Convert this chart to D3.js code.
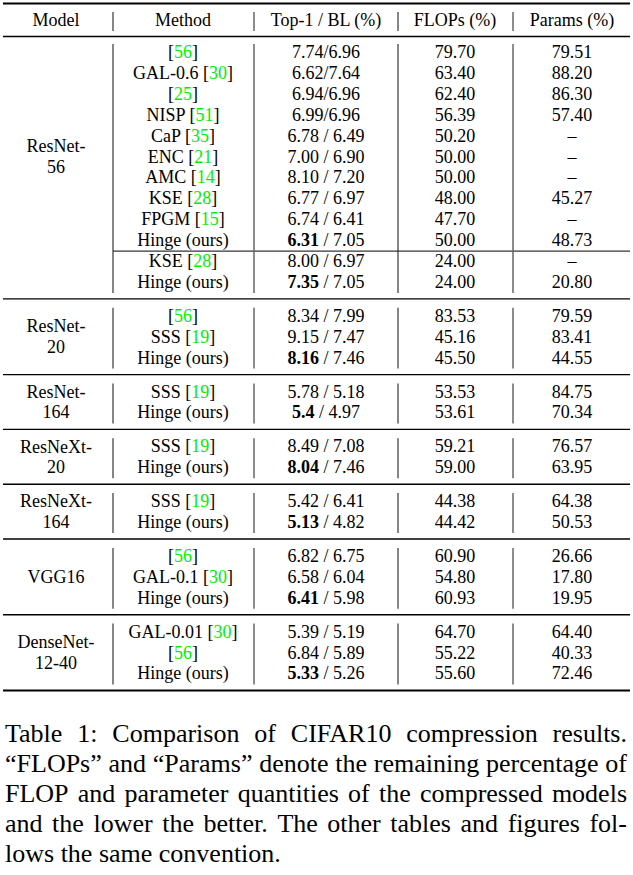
<!DOCTYPE html>
<html>
<head>
<meta charset="utf-8">
<script src="https://cdn.jsdelivr.net/npm/d3@7"></script>
<style>
html,body{margin:0;padding:0;background:#fff;}
svg{display:block;}
text{font-family:"Liberation Serif","Times New Roman",serif;fill:#000;}
</style>
</head>
<body>
<div id="chart"></div>
<script>
// ---------- data ----------
const headers = ["Model", "Method", "Top-1 / BL (%)", "FLOPs (%)", "Params (%)"];
const models = [["ResNet-", "56"], ["ResNet-", "20"], ["ResNet-", "164"], ["ResNeXt-", "20"], ["ResNeXt-", "164"], ["VGG16"], ["DenseNet-", "12-40"]];
const modelLabelRow = [5, 1, 0.5, 0.5, 0.5, 1, 1];
const rowGroup = [0,0,0,0,0,0,0,0,0,0,0,0, 1,1,1, 2,2, 3,3, 4,4, 5,5,5, 6,6,6];
const methodNames = ["", "GAL-0.6", "", "NISP", "CaP", "ENC", "AMC", "KSE", "FPGM", "Hinge (ours)", "KSE", "Hinge (ours)",
  "", "SSS", "Hinge (ours)",
  "SSS", "Hinge (ours)",
  "SSS", "Hinge (ours)",
  "SSS", "Hinge (ours)",
  "", "GAL-0.1", "Hinge (ours)",
  "GAL-0.01", "", "Hinge (ours)"];
const methodRefs = ["56", "30", "25", "51", "35", "21", "14", "28", "15", "", "28", "",
  "56", "19", "",
  "19", "",
  "19", "",
  "19", "",
  "56", "30", "",
  "30", "56", ""];
const top1 = ["7.74","6.62","6.94","6.99","6.78","7.00","8.10","6.77","6.74","6.31","8.00","7.35",
  "8.34","9.15","8.16", "5.78","5.4", "8.49","8.04", "5.42","5.13", "6.82","6.58","6.41", "5.39","6.84","5.33"];
const baseline = ["6.96","7.64","6.96","6.96","6.49","6.90","7.20","6.97","6.41","7.05","6.97","7.05",
  "7.99","7.47","7.46", "5.18","4.97", "7.08","7.46", "6.41","4.82", "6.75","6.04","5.98", "5.19","5.89","5.26"];
const top1Bold = [0,0,0,0,0,0,0,0,0,1,0,1, 0,0,1, 0,1, 0,1, 0,1, 0,0,1, 0,0,1];
const compactSlash = [1,1,1,1,0,0,0,0,0,0,0,0, 0,0,0, 0,0, 0,0, 0,0, 0,0,0, 0,0,0];
const flops = ["79.70","63.40","62.40","56.39","50.20","50.00","50.00","48.00","47.70","50.00","24.00","24.00",
  "83.53","45.16","45.50", "53.53","53.61", "59.21","59.00", "44.38","44.42", "60.90","54.80","60.93", "64.70","55.22","55.60"];
const params = ["79.51","88.20","86.30","57.40","–","–","–","45.27","–","48.73","–","20.80",
  "79.59","83.41","44.55", "84.75","70.34", "76.57","63.95", "64.38","50.53", "26.66","17.80","19.95", "64.40","40.33","72.46"];
const captionLines = [
  "Table 1:  Comparison of CIFAR10 compression results.",
  "“FLOPs” and “Params” denote the remaining percentage of",
  "FLOP and parameter quantities of the compressed models",
  "and the lower the better.  The other tables and figures fol-",
  "lows the same convention."
];

// ---------- layout ----------
const W = 633, H = 875;
const svg = d3.select("#chart").append("svg").attr("width", W).attr("height", H);
const fs = 18;
const rowStep = 20.9, groupGap = 13;
const colX = d3.scaleOrdinal().domain([0,1,2,3,4]).range([56, 183, 326, 455, 572]);
const rowY = d3.scaleLinear().domain([0, 1]).range([52, 52 + rowStep]);
const yOf = (r) => rowY(r) + rowGroup[r] * groupGap;
const headerY = 20;
const vLines = [113, 254, 398, 513];
const left = 3, right = 630;

function hRule(y, w, x0 = left, x1 = right) {
  svg.append("line").attr("x1", x0).attr("x2", x1).attr("y1", y).attr("y2", y)
    .attr("stroke", "#000").attr("stroke-width", w);
}
hRule(3.5, 2);
hRule(36.5, 1.4);
const nGroups = models.length;
const groupRows = d3.range(nGroups).map(g => rowGroup.map((gg, i) => gg === g ? i : -1).filter(i => i >= 0));
groupRows.forEach((rows, g) => {
  const last = rows[rows.length - 1];
  hRule(yOf(last) + 17, g === nGroups - 1 ? 2 : 1.4);
});
hRule(yOf(9) + 11, 1, vLines[0], right);

function vSeg(y0, y1) {
  vLines.forEach((x, k) => {
    svg.append("line").attr("x1", x).attr("x2", x).attr("y1", y0).attr("y2", y1)
      .attr("stroke", k % 2 === 1 ? "#666" : "#222").attr("stroke-width", k % 2 === 1 ? 1.5 : 1.1);
  });
}
vSeg(headerY - 8, headerY + 11);
groupRows.forEach(rows => vSeg(yOf(rows[0]) - 8, yOf(rows[rows.length - 1]) + 11));

const bOff = 6;

headers.forEach((h, i) => {
  svg.append("text").attr("x", colX(i)).attr("y", headerY + bOff).attr("text-anchor", "middle")
    .attr("font-size", fs).text(h);
});

models.forEach((lines, g) => {
  const rows = groupRows[g];
  const cy = yOf(rows[0]) + modelLabelRow[g] * rowStep;
  const t = svg.append("text").attr("text-anchor", "middle").attr("font-size", fs);
  const n = lines.length;
  lines.forEach((ln, k) => {
    t.append("tspan").attr("x", colX(0)).attr("y", cy + bOff + (k - (n - 1) / 2) * 20.5).text(ln);
  });
});

rowGroup.forEach((g, r) => {
  const y = yOf(r) + bOff;
  const m = svg.append("text").attr("x", colX(1)).attr("y", y).attr("text-anchor", "middle").attr("font-size", fs);
  const pre = methodNames[r];
  if (methodRefs[r]) {
    m.append("tspan").text((pre ? pre + " " : "") + "[");
    m.append("tspan").style("fill", "#00ee00").text(methodRefs[r]);
    m.append("tspan").text("]");
  } else {
    m.append("tspan").text(pre);
  }
  const t = svg.append("text").attr("x", colX(2)).attr("y", y).attr("text-anchor", "middle").attr("font-size", fs);
  t.append("tspan").attr("font-weight", top1Bold[r] ? "bold" : "normal").text(top1[r]);
  t.append("tspan").text((compactSlash[r] ? "/" : " / ") + baseline[r]);
  svg.append("text").attr("x", colX(3)).attr("y", y).attr("text-anchor", "middle").attr("font-size", fs).text(flops[r]);
  svg.append("text").attr("x", colX(4)).attr("y", y).attr("text-anchor", "middle").attr("font-size", fs).text(params[r]);
});

// caption (justified)
const capFs = 26, capX0 = 5, capX1 = 627, capY0 = 742, capLH = 30;
captionLines.forEach((line, i) => {
  const y = capY0 + i * capLH;
  const justify = i < captionLines.length - 1;
  const words = line.split(/ +/);
  const g = svg.append("g");
  const nodes = words.map(w => g.append("text").attr("y", y).attr("font-size", capFs).text(w));
  const widths = nodes.map(n => n.node().getComputedTextLength());
  const total = d3.sum(widths);
  const space = justify ? (capX1 - capX0 - total) / (words.length - 1) : capFs * 0.25;
  let x = capX0;
  nodes.forEach((n, k) => { n.attr("x", x); x += widths[k] + space; });
});
</script>
</body>
</html>
